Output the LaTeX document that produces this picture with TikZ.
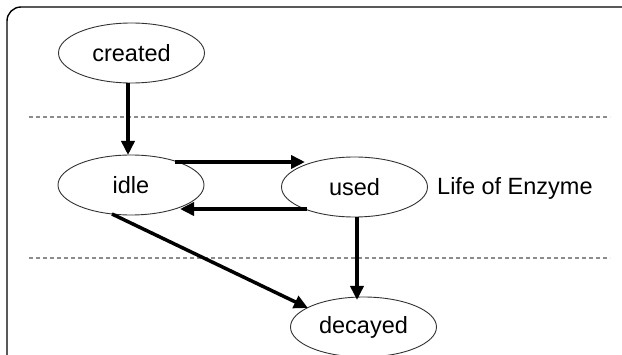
\documentclass[tikz,border=0pt]{standalone}
\usepackage{fontspec}
\setmainfont{Liberation Sans}
\usetikzlibrary{shapes.geometric,arrows.meta,calc}
\begin{document}
\begin{tikzpicture}[x=1pt,y=1pt,
  state/.style={ellipse,draw=black!80,line width=0.9pt,fill=white,minimum width=146pt,minimum height=60pt,inner sep=0pt,font=\fontsize{23.5}{28}\selectfont},
  arr/.style={line width=3.5pt,-{Triangle[length=14pt,width=13pt]}},
  sep/.style={draw=black!45,line width=1.2pt,dash pattern=on 4pt off 3pt},
  lbl/.style={inner sep=0pt,font=\fontsize{23.5}{28}\selectfont}]
\useasboundingbox (0,0) rectangle (622,354);
\clip (0,0) rectangle (622,354);
\fill[white] (0,0) rectangle (622,354);
\draw[line width=1.4pt,rounded corners=14pt] (7,-20) -- (7,347) -- (660,347);
\coordinate (s1a) at (29,237);
\coordinate (s1b) at (610,237);
\coordinate (s2a) at (29,96);
\coordinate (s2b) at (610,96);
\draw[sep] (s1a) -- (s1b);
\draw[sep] (s2a) -- (s2b);
\node[state] (created) at (131.5,301) {created};
\node[state] (idle) at (131,169) {idle};
\node[state] (used) at (354.5,167) {used};
\node[state] (decayed) at (363.5,27) {decayed};
\node[lbl,anchor=west] (life) at (437,166) {Life of Enzyme};
\draw[arr] ($(created.center)+(-3.5,-30)$) -- ($(idle.center)+(-3,30)$);
\draw[arr] ($(idle.center)+(44,23)$) -- ($(used.center)+(-49.5,25)$);
\draw[arr] ($(used.center)+(-47.5,-22)$) -- ($(idle.center)+(49,-24)$);
\draw[arr] ($(idle.center)+(-19,-29)$) -- ($(decayed.center)+(-55.5,19)$);
\draw[arr] ($(used.center)+(2.5,-30)$) -- ($(decayed.center)+(-6.5,27)$);
\end{tikzpicture}
\end{document}
